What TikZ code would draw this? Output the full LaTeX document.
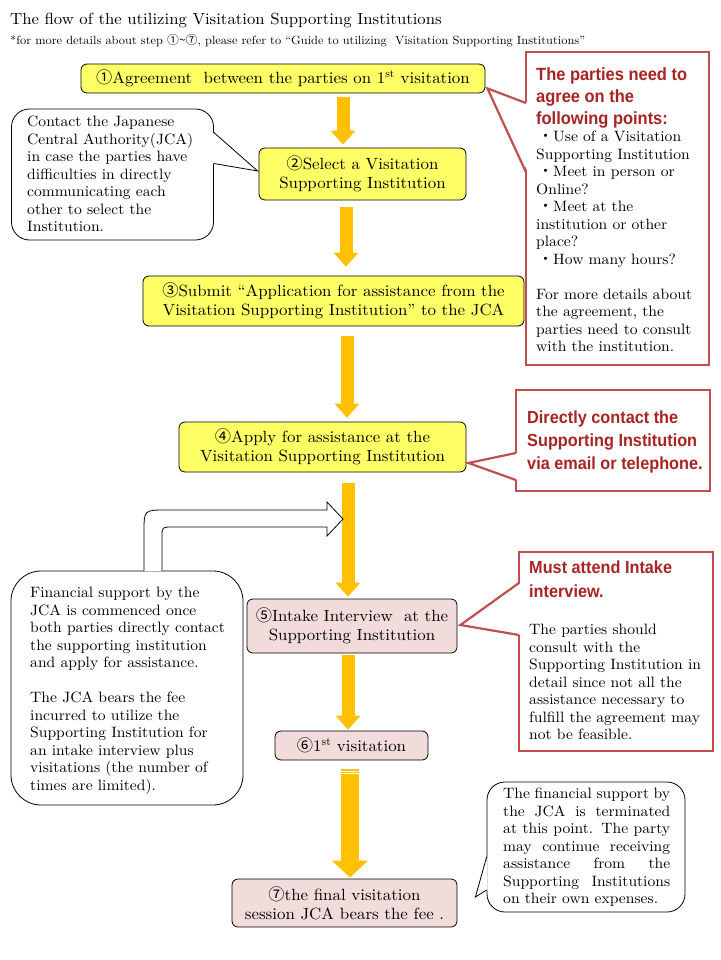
\documentclass[tikz,border=0pt]{standalone}
\usepackage{fontspec}
\usetikzlibrary{arrows.meta,calc}
\setmainfont{lmroman10-regular.otf}[FakeStretch=1.04,
  BoldFont=lmroman10-bold.otf, ItalicFont=lmroman10-italic.otf]
\newfontfamily\cjk{Noto Sans CJK JP}
\newfontfamily\headsans{Liberation Sans}[FakeStretch=0.93]

\definecolor{stepyellow}{RGB}{255,255,102}
\definecolor{steppink}{RGB}{242,220,219}
\definecolor{floworange}{RGB}{255,192,0}
\definecolor{calloutred}{RGB}{192,80,77}
\definecolor{headred}{RGB}{168,36,36}

\newcommand{\stepfont}{\fontsize{16.25}{19}\selectfont}
\newcommand{\notefont}{\fontsize{15}{17.5}\selectfont}
\newcommand{\headfont}{\headsans\bfseries\fontsize{17.7}{22}\selectfont}
\newcommand{\cnum}[1]{{\cjk #1}}
\newcommand{\dotmark}{\hspace{2pt}{\cjk ・}}
\newcommand{\jline}[1]{\makebox[167pt][s]{#1}}

\tikzset{
  stepbox/.style={draw, rounded corners=6pt, fill=stepyellow, align=center,
    font=\stepfont, inner sep=0pt, line width=0.8pt},
  pinkbox/.style={stepbox, fill=steppink},
  bubble/.style={draw, rounded corners=18pt, fill=white, line width=0.8pt},
  redbox/.style={draw=calloutred, line width=2.2pt, fill=white},
  redhead/.style={font=\headfont, text=headred, align=left, inner sep=0pt},
  note/.style={font=\notefont, align=left, inner sep=0pt},
  flow/.style={draw=floworange, line width=13pt,
    -{Triangle[width=25pt,length=14pt,line width=0pt]}},
  bigflow/.style={draw=floworange, line width=18pt,
    -{Triangle[width=36pt,length=17pt,line width=0pt]}},
}

\begin{document}
\begin{tikzpicture}[x=1pt,y=-1pt]
  \useasboundingbox (0,0) rectangle (720,960);

  % heading
  \node[anchor=base west, inner sep=0pt, font=\fontsize{16.1}{19}\selectfont] (title)
    at (10,25) {The flow of the utilizing Visitation Supporting Institutions};
  \node[anchor=base west, inner sep=0pt, font=\fontsize{11.9}{13}\selectfont] (subtitle)
    at (10,45) {*for more details about step {\cjk ①\char"7E⑦}, please refer to “Guide to utilizing\ \ Visitation Supporting Institutions”};

  % steps
  \node[stepbox, minimum width=404pt, minimum height=29pt] (agreement) at (283,78.5)
    {\cnum{①}Agreement\ \ between the parties on 1\textsuperscript{st} visitation};
  \node[stepbox, minimum width=207pt, minimum height=52pt] (select) at (362.5,174)
    {\cnum{②}Select a Visitation\\Supporting Institution};
  \node[stepbox, minimum width=381pt, minimum height=50pt] (submit) at (333.5,301)
    {\cnum{③}Submit “Application for assistance from the\\Visitation Supporting Institution” to the JCA};
  \node[stepbox, minimum width=287pt, minimum height=50pt] (apply) at (322.5,447)
    {\cnum{④}Apply for assistance at the\\Visitation Supporting Institution};
  \node[pinkbox, minimum width=210pt, minimum height=54pt] (intake) at (352,626)
    {\cnum{⑤}Intake Interview\ \ at the\\Supporting Institution};
  \node[pinkbox, minimum width=153pt, minimum height=29pt] (first) at (351.5,745.5)
    {\cnum{⑥}1\textsuperscript{st} visitation};
  \node[pinkbox, minimum width=225pt, minimum height=48pt] (final) at (344.5,903)
    {\cnum{⑦}the final visitation\\session JCA bears the fee .};

  % orange flow arrows
  \foreach \from/\to/\col/\gapa/\gapb in {agreement/select/343/4/3, select/submit/346/7/9,
      submit/apply/347/10/4, apply/intake/348/11/2, intake/first/348/2/1}
    \draw[flow] ($(\col,0 |- \from.south)+(0,\gapa)$) -- ($(\col,0 |- \to.north)+(0,-\gapb)$);
  \draw[bigflow] ($(350,0 |- first.south)+(0,9)$) -- ($(350,0 |- final.north)+(0,-1)$);
  \draw[white, line width=0.6pt] (341,771) -- (359,771) (341,773.5) -- (359,773.5);

  % left bubbles
  \node[bubble, minimum width=202pt, minimum height=131pt] (contact) at (112.5,174.5) {};
  \fill[white] ($(contact.east)+(-1,-42)$) -- ($(select.west)+(-1,-3)$) -- ($(contact.east)+(-1,-11)$) -- cycle;
  \draw[line width=0.8pt] ($(contact.east)+(0,-42)$) -- ($(select.west)+(-1,-3)$) -- ($(contact.east)+(0,-11)$);
  \node[note, anchor=north west] (contacttext) at (27,116)
    {Contact the Japanese\\Central Authority(JCA)\\in case the parties have\\difficulties in directly\\communicating each\\other to select the\\Institution.};

  \node[bubble, rounded corners=30pt, minimum width=232pt, minimum height=234pt] (support) at (127,688) {};
  \node[note, anchor=north west] (supporttext) at (30,587)
    {Financial support by the\\JCA is commenced once\\both parties directly contact\\the supporting institution\\and apply for assistance.\\[17.5pt]The JCA bears the fee\\incurred to utilize the\\Supporting Institution for\\an intake interview plus\\visitations (the number of\\times are limited).};

  % bent hollow arrow
  \draw[fill=white, line width=0.8pt] (144,571) -- (144,532) .. controls (144,510) .. (166,510)
    -- (327,510) -- (327,502) -- (343,519) -- (327,536) -- (327,527) -- (172,527)
    .. controls (162,527) .. (162,537) -- (162,571);

  % right callouts
  \node[redbox, minimum width=183pt, minimum height=313pt] (agree) at (617.5,208.5) {};
  \fill[white] ($(agree.west)+(3,-105.5)$) -- ($(agreement.south east)+(2,-5)$) -- ($(agree.west)+(3,-36.5)$) -- cycle;
  \draw[calloutred, line width=2.2pt] ($(agree.west)+(1,-105.5)$) -- ($(agreement.south east)+(2,-5)$) -- ($(agree.west)+(1,-36.5)$);
  \node[redhead, anchor=north west] (agreehead) at (536,67)
    {The parties need to\\agree on the\\following points:};
  \node[note, anchor=north west] (agreelist) at (536,131)
    {\dotmark Use of a Visitation\\Supporting Institution\\\dotmark Meet in person or\\Online?\\\dotmark Meet at the\\institution or other\\place?\\\dotmark How many hours?\\[17.5pt]For more details about\\the agreement, the\\parties need to consult\\with the institution.};

  \node[redbox, minimum width=194pt, minimum height=101pt] (direct) at (613,440.5) {};
  \fill[white] ($(direct.west)+(3,12.5)$) -- ($(apply.east)+(2,16)$) -- ($(direct.west)+(3,39.5)$) -- cycle;
  \draw[calloutred, line width=2.2pt] ($(direct.west)+(1,12.5)$) -- ($(apply.east)+(2,16)$) -- ($(direct.west)+(1,39.5)$);
  \node[redhead, anchor=north west, font=\headsans\bfseries\fontsize{17.5}{23}\selectfont] (directhead) at (527,411)
    {Directly contact the\\Supporting Institution\\via email or telephone.};

  \node[redbox, minimum width=194pt, minimum height=199pt] (attend) at (616,651.5) {};
  \fill[white] ($(attend.west)+(3,-68.5)$) -- ($(intake.east)+(3,-1)$) -- ($(attend.west)+(3,-16.5)$) -- cycle;
  \draw[calloutred, line width=2.2pt] ($(attend.west)+(1,-68.5)$) -- ($(intake.east)+(3,-1)$) -- ($(attend.west)+(1,-16.5)$);
  \node[redhead, anchor=north west, font=\headsans\bfseries\fontsize{17.5}{24}\selectfont] (attendhead) at (529,561)
    {Must attend Intake\\interview.};
  \node[note, anchor=north west] (attendtext) at (529,624)
    {The parties should\\consult with the\\Supporting Institution in\\detail since not all the\\assistance necessary to\\fulfill the agreement may\\not be feasible.};

  % closing bubble
  \node[bubble, minimum width=198pt, minimum height=130pt] (ending) at (586,847) {};
  \fill[white] ($(ending.west)+(1,10)$) -- ($(final.east)+(18,-6)$) -- ($(ending.west)+(1,43)$) -- cycle;
  \draw[line width=0.8pt] ($(ending.west)+(0,10)$) -- ($(final.east)+(18,-6)$) -- ($(ending.west)+(0,43)$);
  \node[note, anchor=north west] (endingtext) at (503,788)
    {\jline{The financial support by}\\\jline{the JCA is terminated}\\\jline{at this point. The party}\\\jline{may continue receiving}\\\jline{assistance from the}\\\jline{Supporting Institutions}\\on their own expenses.};
\end{tikzpicture}
\end{document}
